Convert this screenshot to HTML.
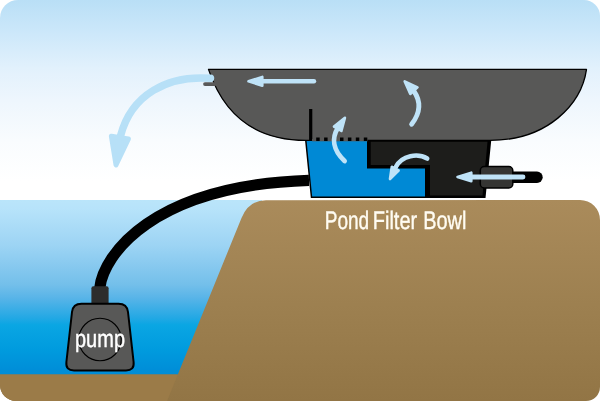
<!DOCTYPE html>
<html><head><meta charset="utf-8"><title>Pond Filter Bowl</title>
<style>
html,body{margin:0;padding:0;background:#fff;}
svg{display:block;will-change:transform;}
text{font-family:"Liberation Sans",sans-serif;fill:#fffcf2;text-rendering:geometricPrecision;stroke:#fffcf2;stroke-width:0.4px;}
</style></head><body>
<svg width="600" height="401" viewBox="0 0 600 401">
<defs>
<linearGradient id="sky" x1="0" y1="0" x2="0" y2="1">
<stop offset="0" stop-color="#b9dff6"/><stop offset="0.17" stop-color="#cde8fa"/><stop offset="0.34" stop-color="#e2f1fc"/><stop offset="0.5" stop-color="#eef6fd"/><stop offset="0.7" stop-color="#f9fcfe"/><stop offset="0.9" stop-color="#ffffff"/>
</linearGradient>
<linearGradient id="water" x1="0" y1="0" x2="0" y2="1">
<stop offset="0" stop-color="#bae5fa"/><stop offset="0.05" stop-color="#b7e3fa"/><stop offset="0.256" stop-color="#9dd4f4"/><stop offset="0.483" stop-color="#73bfea"/><stop offset="0.557" stop-color="#58b4e8"/><stop offset="0.67" stop-color="#23a8e4"/><stop offset="0.71" stop-color="#0aa6e3"/><stop offset="0.85" stop-color="#009bde"/><stop offset="0.966" stop-color="#008ed8"/><stop offset="1" stop-color="#008cd7"/>
</linearGradient>
<linearGradient id="ground" x1="0" y1="0" x2="0" y2="1">
<stop offset="0" stop-color="#aa8b5b"/><stop offset="0.52" stop-color="#9d8050"/><stop offset="1" stop-color="#927545"/>
</linearGradient>
<clipPath id="round"><path d="M18,0 L584,0 A16,16 0 0 1 600,16 L600,387 A14,14 0 0 1 586,401 L16,401 A16,16 0 0 1 0,385 L0,18 A18,18 0 0 1 18,0 Z"/></clipPath>
</defs>
<g clip-path="url(#round)">
<rect x="0" y="0" width="600" height="201" fill="url(#sky)"/>
<rect x="0" y="200" width="262" height="176" fill="url(#water)"/>
<!-- ground -->
<path d="M0,374.5 L177.8,374.5 L241.5,218 Q248.5,200.2 266,200.2 L580,200 A20,20 0 0 1 600,220 L600,401 L0,401 Z" fill="url(#ground)"/>
<path d="M0,374.5 L177.8,374.5 L167.1,401 L0,401 Z" fill="#9b7b48"/>
<!-- hose -->
<path d="M309,180.4 C151.9,185.3 103.3,255.5 99.8,288" fill="none" stroke="#000" stroke-width="11.2"/>
<!-- filter water -->
<path d="M305.8,141 L370,141 L370,167.5 L428,167.5 L428,197.3 L311.5,197.3 Z" fill="#0089d5"/>
<path d="M305.8,140.5 L311.5,197.3 L428,197.3" fill="none" stroke="#000" stroke-width="1.5"/>
<!-- filter dark box -->
<path d="M367,137.8 L491.5,137.8 L485.5,198 L425,198 L425,168.6 L367,168.6 Z" fill="#000"/>
<path d="M370.7,141.7 L487.5,141.7 L482.5,195.5 L430,195.5 L430,165 L370.7,165 Z" fill="#1d1d1b"/>
<!-- bowl -->
<path d="M208.5,69.4 L586.5,69.4 C581.5,104 548,140.4 490,140.4 L306,140.4 C246,140.4 220.7,105.7 208.5,69.4 Z" fill="#585857" stroke="#000" stroke-width="1.3" stroke-linejoin="round"/>
<rect x="309.1" y="109" width="3.2" height="32" fill="#000"/>
<rect x="312" y="139" width="55.5" height="2.3" fill="#585857"/>
<path d="M316.2,137.4h3.5v3.6h-3.5z M324.1,137.4h3.5v3.6h-3.5z M332.1,137.4h3.5v3.6h-3.5z M340.0,137.4h3.5v3.6h-3.5z M347.9,137.4h3.5v3.6h-3.5z M355.8,137.4h3.5v3.6h-3.5z M363.8,137.4h3.5v3.6h-3.5z" fill="#000"/>
<!-- spout -->
<line x1="205" y1="84.1" x2="215" y2="84.1" stroke="#595959" stroke-width="3.8" stroke-linecap="round"/>
<!-- inlet pipe -->
<line x1="505" y1="177.2" x2="537" y2="177.2" stroke="#000" stroke-width="11.4" stroke-linecap="round"/>
<rect x="480.3" y="166.5" width="32.5" height="21.5" rx="4" fill="#353533" stroke="#000" stroke-width="1.5"/>
<!-- arrows -->
<g fill="none" stroke="#bfe3f8" stroke-linecap="round">
<path d="M210.5,78.3 C167.6,74.8 131.1,94.7 120.5,136" stroke-width="7.5" stroke="#b7e0f7"/>
<line x1="314" y1="81.3" x2="262" y2="81.3" stroke-width="4.4"/>
<line x1="523" y1="177" x2="470" y2="177" stroke-width="4.8"/>
<path d="M344.6,161 C332.8,150 331.6,138 337.8,128" stroke-width="4.8"/>
<path d="M411.6,124.3 Q425,107 413.8,91" stroke-width="4.8"/>
<path d="M427.2,158.5 C418,153 402,155 395.8,167" stroke-width="4.6"/>
</g>
<g fill="#bfe3f8" stroke="#bfe3f8" stroke-width="2.6" stroke-linejoin="round">
<path d="M116,164.9 L111.4,136.3 L128.4,138.9 Z" fill="#b7e0f7" stroke="#b7e0f7" stroke-width="5"/>
<path d="M248.5,81.3 L262.3,76.9 L262.3,85.7 Z"/>
<path d="M457.5,177.0 L471.3,172.7 L471.3,181.3 Z"/>
<path d="M344.9,117.8 L334.0,126.6 L341.4,131.0 Z"/>
<path d="M404.7,81.4 L410.3,94.0 L417.5,87.4 Z"/>
<path d="M390.0,179 L391.8,166.7 L398.6,170.5 Z"/>
</g>
<!-- pump -->
<rect x="91.4" y="286.2" width="17.2" height="18" rx="2" fill="#2d2d2c"/>
<path d="M81.5,303.8 L118.5,303.8 Q127,303.8 128,312 L133.6,362 Q134.5,370.5 126,370.5 L74,370.5 Q65.5,370.5 66.4,362 L72,312 Q73,303.8 81.5,303.8 Z" fill="#585857" stroke="#000" stroke-width="2"/>
<circle cx="100" cy="339.5" r="21.2" fill="none" stroke="#000" stroke-width="1.1"/>
<text x="75" y="346.5" font-size="24.6" textLength="50" lengthAdjust="spacingAndGlyphs" style="fill:#fff;stroke:#fff">pump</text>
<text y="229.2" font-size="25.4"><tspan x="324.7" textLength="44.5" lengthAdjust="spacingAndGlyphs">Pond</tspan> <tspan x="372.8" textLength="44.4" lengthAdjust="spacingAndGlyphs">Filter</tspan> <tspan x="423.2" textLength="43.3" lengthAdjust="spacingAndGlyphs">Bowl</tspan></text>
</g>
</svg>
</body></html>
